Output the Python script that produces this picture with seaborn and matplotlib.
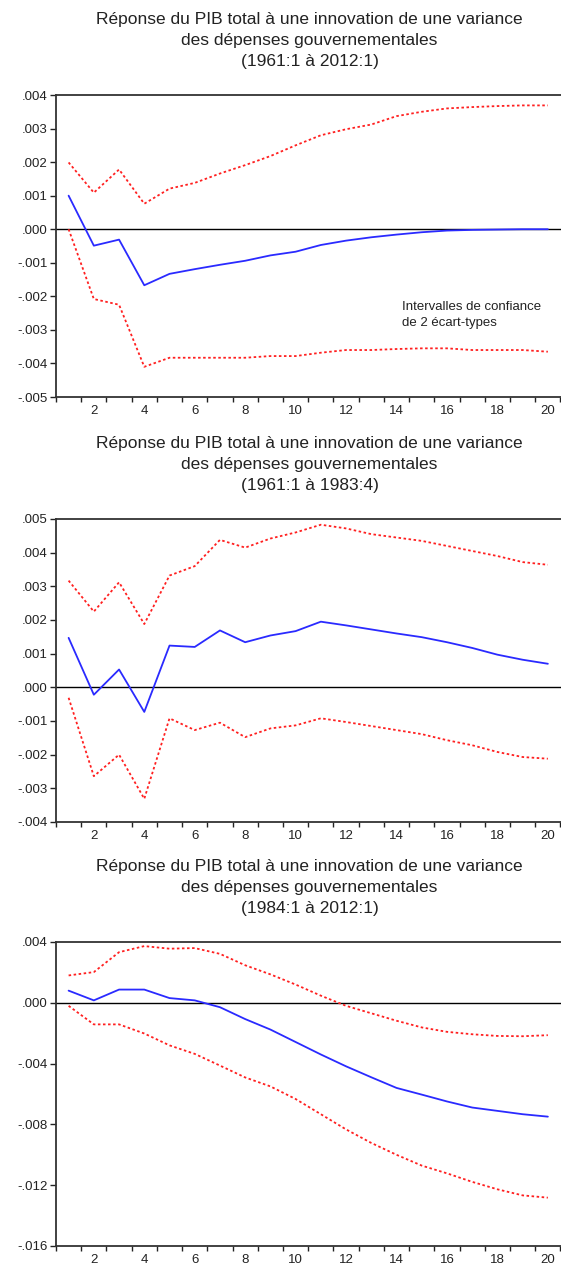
import numpy as np
import pandas as pd
import matplotlib
matplotlib.use("Agg")
import matplotlib.pyplot as plt
from matplotlib.ticker import FixedLocator, FuncFormatter
import seaborn as sns

sns.set_style("white")
plt.rcParams["font.family"] = ["Liberation Sans", "DejaVu Sans"]

periods = list(range(1, 21))

title_lines = "Réponse du PIB total à une innovation de une variance\ndes dépenses gouvernementales"
samples = ["(1961:1 à 2012:1)", "(1961:1 à 1983:4)", "(1984:1 à 2012:1)"]

# Panel 1 : 1961:1 - 2012:1
irf_1 = [0.00100, -0.00049, -0.00031, -0.00167, -0.00133, -0.00119, -0.00106, -0.00094,
         -0.00078, -0.00067, -0.00047, -0.00034, -0.00024, -0.00016, -0.00009, -0.00004,
         -0.00002, -0.00001, 0.00000, 0.00000]
upper_1 = [0.00199, 0.00109, 0.00178, 0.00076, 0.00121, 0.00138, 0.00166, 0.00191,
           0.00218, 0.00250, 0.00280, 0.00298, 0.00312, 0.00337, 0.00350, 0.00360,
           0.00364, 0.00367, 0.00369, 0.00369]
lower_1 = [0.00000, -0.00208, -0.00225, -0.00410, -0.00383, -0.00383, -0.00383, -0.00383,
           -0.00378, -0.00378, -0.00368, -0.00360, -0.00360, -0.00357, -0.00355, -0.00355,
           -0.00360, -0.00360, -0.00360, -0.00365]

# Panel 2 : 1961:1 - 1983:4
irf_2 = [0.00147, -0.00022, 0.00053, -0.00073, 0.00124, 0.00120, 0.00169, 0.00134,
         0.00154, 0.00167, 0.00195, 0.00184, 0.00172, 0.00160, 0.00149, 0.00134,
         0.00117, 0.00097, 0.00082, 0.00070]
upper_2 = [0.00317, 0.00225, 0.00312, 0.00188, 0.00332, 0.00360, 0.00438, 0.00415,
           0.00442, 0.00460, 0.00483, 0.00472, 0.00455, 0.00445, 0.00435, 0.00420,
           0.00405, 0.00390, 0.00372, 0.00364]
lower_2 = [-0.00031, -0.00264, -0.00200, -0.00331, -0.00092, -0.00127, -0.00105, -0.00148,
           -0.00122, -0.00113, -0.00092, -0.00103, -0.00115, -0.00127, -0.00139, -0.00157,
           -0.00172, -0.00192, -0.00207, -0.00212]

# Panel 3 : 1984:1 - 2012:1
irf_3 = [0.00080, 0.00016, 0.00087, 0.00087, 0.00031, 0.00016, -0.00029, -0.00107,
         -0.00176, -0.00258, -0.00340, -0.00418, -0.00490, -0.00560, -0.00604, -0.00649,
         -0.00689, -0.00711, -0.00733, -0.00749]
upper_3 = [0.00180, 0.00202, 0.00333, 0.00373, 0.00356, 0.00360, 0.00322, 0.00247,
           0.00187, 0.00120, 0.00047, -0.00020, -0.00069, -0.00118, -0.00162, -0.00191,
           -0.00207, -0.00218, -0.00220, -0.00213]
lower_3 = [-0.00020, -0.00142, -0.00142, -0.00202, -0.00280, -0.00336, -0.00413, -0.00491,
           -0.00550, -0.00633, -0.00733, -0.00833, -0.00922, -0.01000, -0.01071, -0.01122,
           -0.01178, -0.01227, -0.01267, -0.01282]

y_limits = [(-0.005, 0.004), (-0.004, 0.005), (-0.016, 0.004)]
y_steps = [0.001, 0.001, 0.004]

panels = [(irf_1, upper_1, lower_1), (irf_2, upper_2, lower_2), (irf_3, upper_3, lower_3)]

W, H = 561, 1268
fig = plt.figure(figsize=(W / 100, H / 100), dpi=100)

# axes boxes in pixels: (top, bottom)
boxes = [(95, 397), (519, 822), (942, 1246)]
left_px, right_px = 56, 563


def fmt(v, _pos):
    s = f"{v:.3f}"
    return s.replace("0.", ".", 1)


for i, ((irf, up, lo), (top, bot)) in enumerate(zip(panels, boxes)):
    ax = fig.add_axes([left_px / W, 1 - bot / H, (right_px - left_px) / W, (bot - top) / H])
    df = pd.DataFrame({"period": periods, "irf": irf, "upper": up, "lower": lo})

    ax.axhline(0, color="black", lw=1.0, zorder=1)
    sns.lineplot(data=df, x="period", y="upper", ax=ax, color="#ff2020", lw=1.3,
                 linestyle=(0, (1.4, 1.4)), zorder=2)
    sns.lineplot(data=df, x="period", y="lower", ax=ax, color="#ff2020", lw=1.3,
                 linestyle=(0, (1.4, 1.4)), zorder=2)
    sns.lineplot(data=df, x="period", y="irf", ax=ax, color="#2a2aff", lw=1.3, zorder=3)

    ax.set_xlim(0.5, 20.6)
    lo_y, hi_y = y_limits[i]
    ax.set_ylim(lo_y, hi_y)
    step = y_steps[i]
    yt = np.round(np.arange(lo_y, hi_y + step / 2, step), 4)
    ax.yaxis.set_major_locator(FixedLocator(yt))
    ax.yaxis.set_major_formatter(FuncFormatter(fmt))

    ax.xaxis.set_major_locator(FixedLocator(list(range(2, 21, 2))))
    ax.xaxis.set_minor_locator(FixedLocator(np.arange(0.5, 21, 1.0)))
    ax.tick_params(axis="x", which="major", length=0, pad=6, labelsize=9.5, colors="#222222")
    ax.tick_params(axis="x", which="minor", length=3.5, width=1.0, direction="out",
                   color="#222222", bottom=True)
    ax.tick_params(axis="y", which="major", length=4.3, width=1.0, direction="out",
                   left=True, pad=1.5, labelsize=9.5, colors="#222222")

    for side in ("left", "top", "bottom", "right"):
        ax.spines[side].set_color("#333333")
        ax.spines[side].set_linewidth(1.3)
    ax.set_xlabel("")
    ax.set_ylabel("")

    ax.set_title(title_lines + "\n" + samples[i], fontsize=12.5, linespacing=1.5,
                 pad=21, color="#222222")

    if i == 0:
        ax.text(402 / W, 1 - 315 / H, "Intervalles de confiance\nde 2 écart-types",
                transform=fig.transFigure, fontsize=9.5, ha="left", va="center",
                linespacing=1.5, color="#222222")

fig.savefig("out.png", dpi=100)
